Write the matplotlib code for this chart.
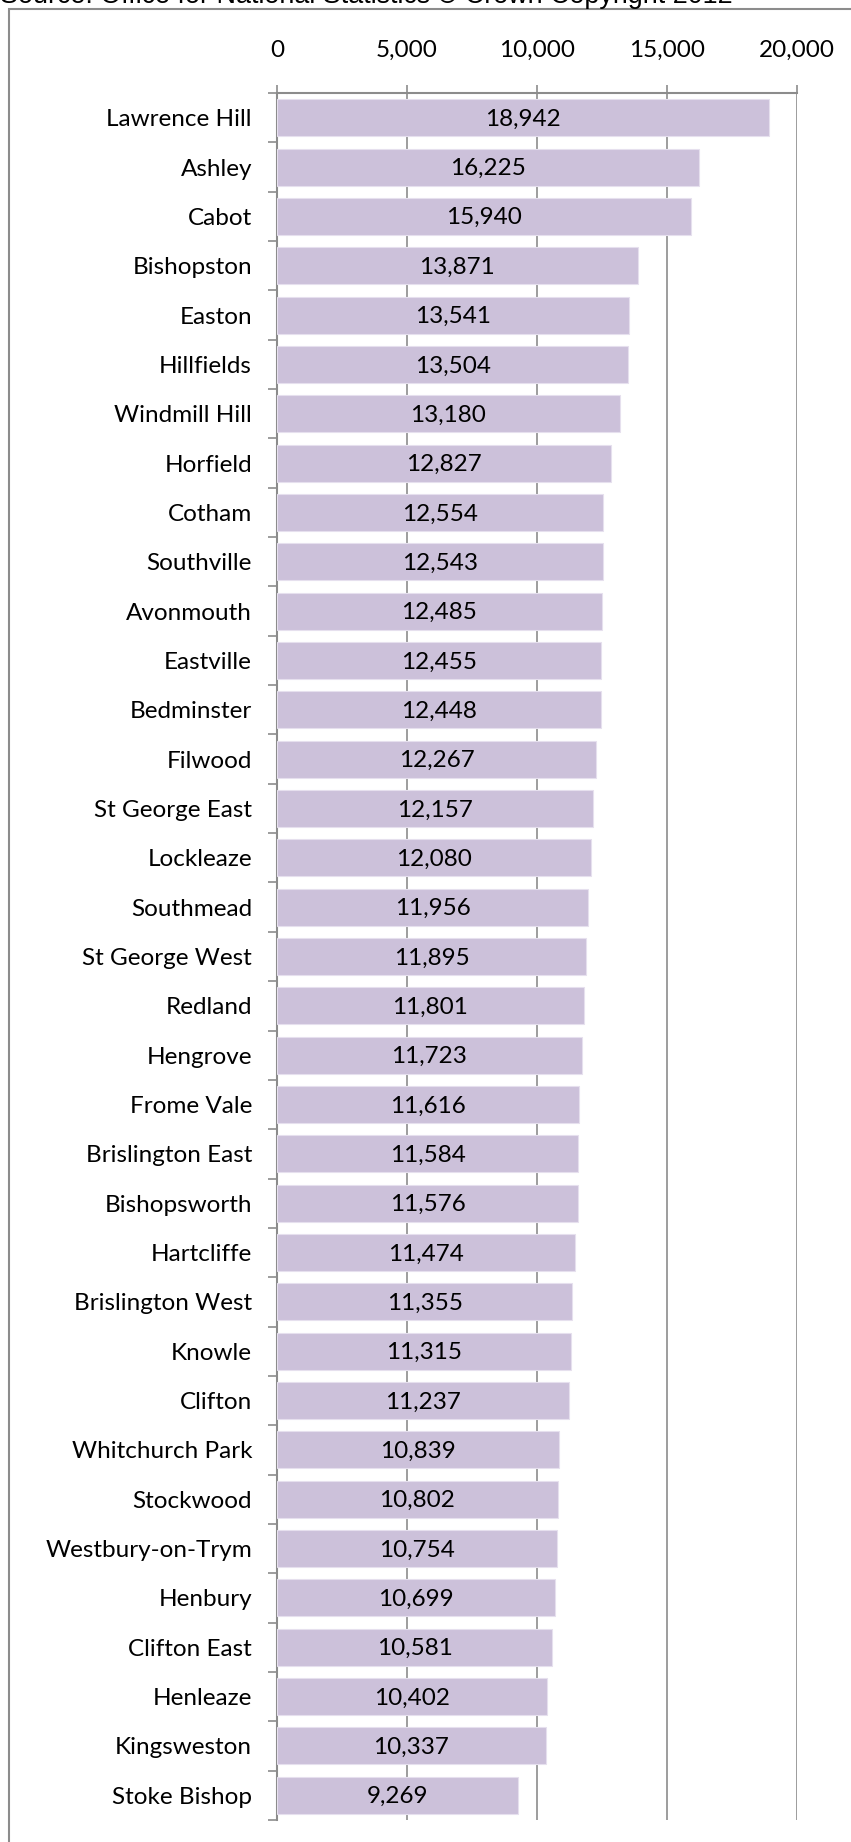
import matplotlib
matplotlib.use("Agg")
import matplotlib.pyplot as plt
from matplotlib.patches import Rectangle

wards = ["Lawrence Hill", "Ashley", "Cabot", "Bishopston", "Easton", "Hillfields",
         "Windmill Hill", "Horfield", "Cotham", "Southville", "Avonmouth", "Eastville",
         "Bedminster", "Filwood", "St George East", "Lockleaze", "Southmead",
         "St George West", "Redland", "Hengrove", "Frome Vale", "Brislington East",
         "Bishopsworth", "Hartcliffe", "Brislington West", "Knowle", "Clifton",
         "Whitchurch Park", "Stockwood", "Westbury-on-Trym", "Henbury", "Clifton East",
         "Henleaze", "Kingsweston", "Stoke Bishop"]
population = [18942, 16225, 15940, 13871, 13541, 13504, 13180, 12827, 12554, 12543,
              12485, 12455, 12448, 12267, 12157, 12080, 11956, 11895, 11801, 11723,
              11616, 11584, 11576, 11474, 11355, 11315, 11237, 10839, 10802, 10754,
              10699, 10581, 10402, 10337, 9269]
xticks = [0, 5000, 10000, 15000, 20000]
source = "Source: Office for National Statistics \u00a9 Crown Copyright 2012"

W, H = 851, 1842
fig = plt.figure(figsize=(W / 100, H / 100), dpi=100)
fig.patch.set_facecolor("white")

# outer chart border (extends beyond right/bottom edge)
fig.patches.append(Rectangle((9 / W, -0.2), 2.0, 1.2 - 9 / H, transform=fig.transFigure,
                             fill=False, edgecolor="#8c8c8c", linewidth=1.5, zorder=0))

left, right, top, bottom = 277 / W, 797 / W, 1 - 93 / H, 1 - 1820 / H
ax = fig.add_axes([left, bottom, right - left, top - bottom])

n = len(wards)
ypos = list(range(n))
bars = ax.barh(ypos, population, height=0.75, color="#ccc1da", edgecolor="#e6e0ee",
               linewidth=0.8, zorder=3)
ax.set_ylim(n - 0.5, -0.5)
ax.set_xlim(0, 20000)

font = "Lato"
for b, v in zip(bars, population):
    ax.text(b.get_width() / 2, b.get_y() + b.get_height() / 2 + 0.03, f"{v:,}",
            ha="center", va="center", fontsize=17.5, family=font, color="black", zorder=4)

ax.set_yticks(ypos)
ax.set_yticklabels(wards, fontsize=17.5, family=font)
ax.set_yticks([i - 0.5 for i in range(n + 1)], minor=True)
ax.tick_params(axis="y", which="major", length=0, pad=18)
ax.tick_params(axis="y", which="minor", length=6.5, width=1.2, color="#8c8c8c", direction="out")

ax.xaxis.tick_top()
ax.set_xticks(xticks)
ax.set_xticklabels([f"{t:,}" for t in xticks], fontsize=17.5, family=font)
ax.tick_params(axis="x", which="major", length=6, width=1.2, color="#8c8c8c", pad=17)

ax.grid(axis="x", color="#8c8c8c", linewidth=1.2, zorder=1)
ax.set_axisbelow(True)
for s in ["right", "bottom"]:
    ax.spines[s].set_visible(False)
for s in ["top", "left"]:
    ax.spines[s].set_color("#8c8c8c")
    ax.spines[s].set_linewidth(1.5)

# source text, partially cut off at top edge as in the original
t = fig.text(0.0, 1 - 3 / H, source, ha="left", va="baseline", fontsize=18,
             family="Liberation Sans", color="black")
fig.canvas.draw()
bb = t.get_window_extent()
t.set_fontsize(18 * 732 / bb.width)

fig.savefig("out.png", dpi=100, facecolor="white")
